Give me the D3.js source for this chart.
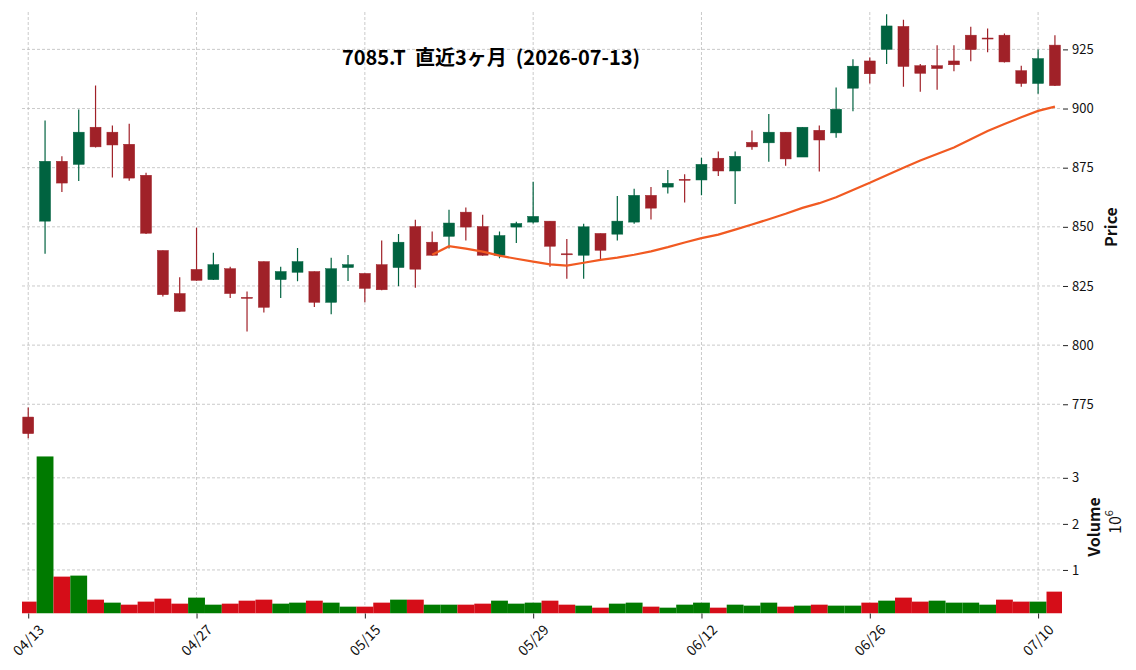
<!DOCTYPE html>
<html>
<head>
<meta charset="utf-8">
<script src="https://cdn.jsdelivr.net/npm/d3@7"></script>
<style>
body{margin:0;background:#fff;}
svg{font-family:"Noto Sans CJK JP","Noto Sans",sans-serif;}
</style>
</head>
<body>
<div id="chart"></div>
<script>
// 7085.T daily, last 3 months
const dates=["04/13","04/14","04/15","04/16","04/17","04/20","04/21","04/22","04/23","04/24",
"04/27","04/28","04/30","05/01","05/07","05/08","05/11","05/12","05/13","05/14",
"05/15","05/18","05/19","05/20","05/21","05/22","05/25","05/26","05/27","05/28",
"05/29","06/01","06/02","06/03","06/04","06/05","06/08","06/09","06/10","06/11",
"06/12","06/15","06/16","06/17","06/18","06/19","06/22","06/23","06/24","06/25",
"06/26","06/29","06/30","07/01","07/02","07/03","07/06","07/07","07/08","07/09",
"07/10","07/13"];
const opens=[769.6,852.4,877.7,876.4,892.1,890.0,884.9,871.8,840.0,821.8,
832.0,827.7,832.3,820.2,835.3,827.7,830.8,831.1,818.1,832.8,
830.3,834.0,832.8,850.1,843.5,846.0,856.2,850.1,838.0,849.9,
852.0,852.4,838.6,838.0,847.2,846.9,852.0,863.3,866.8,870.1,
869.8,879.0,873.6,885.7,885.5,890.0,879.5,890.8,889.7,908.6,
920.1,925.0,934.7,918.1,918.1,920.1,931.0,929.8,931.0,916.0,
910.6,926.8];
const highs=[773.6,894.9,879.8,899.6,909.7,892.8,893.6,872.9,840.0,828.7,
849.6,839.0,833.1,822.7,835.3,833.1,841.1,831.1,836.9,838.1,
830.3,844.2,847.0,853.0,848.0,857.2,858.2,855.1,848.0,852.1,
869.1,852.4,844.9,851.3,847.2,863.0,866.1,866.8,874.0,872.2,
879.2,881.8,881.8,890.7,897.7,890.0,892.1,892.8,908.9,920.8,
921.6,939.8,937.5,918.8,926.7,926.7,934.6,933.8,931.7,918.1,
925.0,931.0];
const lows=[760.6,838.6,864.7,869.4,883.5,870.8,869.5,847.0,820.6,814.0,
827.2,827.5,819.9,805.8,813.8,819.9,827.0,816.1,813.1,827.1,
818.1,823.2,824.9,824.2,837.8,840.8,844.2,837.8,836.7,843.2,
851.4,833.1,828.1,828.1,836.2,844.2,851.3,853.1,864.1,860.3,
863.3,871.5,859.7,882.6,877.5,875.8,879.5,873.4,887.7,898.9,
910.6,918.8,909.2,907.1,907.9,915.8,920.0,923.8,919.5,909.2,
906.3,909.5];
const closes=[762.6,877.7,868.5,890.0,883.8,884.6,870.6,847.3,821.3,814.3,
827.4,834.0,821.8,819.8,816.0,831.1,835.3,818.1,832.3,834.0,
824.0,823.4,843.5,832.1,838.0,851.6,849.9,838.0,846.3,851.4,
854.4,841.8,838.3,850.0,840.1,852.4,863.3,857.9,868.4,869.9,
876.4,873.6,879.8,883.8,890.0,878.7,892.1,886.7,899.7,917.9,
914.7,934.9,917.8,914.9,916.9,918.5,924.9,929.6,919.7,910.6,
921.1,909.7];
// volume, millions of shares
const volumes=[0.312,3.464,0.855,0.877,0.355,0.290,0.246,0.312,0.377,0.268,
0.399,0.246,0.268,0.333,0.355,0.268,0.290,0.333,0.290,0.203,
0.203,0.290,0.355,0.355,0.246,0.246,0.246,0.268,0.333,0.268,
0.290,0.333,0.246,0.225,0.181,0.268,0.290,0.203,0.181,0.246,
0.290,0.181,0.246,0.225,0.290,0.203,0.225,0.246,0.225,0.225,
0.290,0.333,0.399,0.312,0.333,0.290,0.290,0.246,0.355,0.312,
0.312,0.529];
// 25 day moving average
const ma25=[null,null,null,null,null,null,null,null,null,null,
null,null,null,null,null,null,null,null,null,null,
null,null,null,null,838.2,841.8,840.8,839.5,837.8,836.5,
835.3,834.1,833.6,834.8,836.0,837.0,838.2,839.6,841.4,843.4,
845.2,846.7,848.8,851.0,853.2,855.5,858.0,860.0,862.5,865.6,
868.6,871.8,875.0,878.0,880.8,883.5,887.0,890.5,893.5,896.3,
899.0,900.8];
const priceTicks=[775,800,825,850,875,900,925];
const volTicks=[1,2,3];
const title="7085.T  直近3ヶ月  (2026-07-13)";

const width=1136,height=670;
const left=22,right=1062,priceTop=12,priceBottom=440,volTop=440.5,volBottom=613.5;
const upColor="#006340",downColor="#a02128";
const volUp="#007a00",volDown="#d50d18";
const gridColor="#bdbdbd";

const svg=d3.select("#chart").append("svg")
  .attr("width",width).attr("height",height);

const x=d3.scaleLinear().domain([-0.37,dates.length-1+0.42]).range([left,right]);
const yP=d3.scaleLinear().domain([759.9,940.8]).range([priceBottom,priceTop]);
const yV=d3.scaleLinear()
  .domain([d3.min(volumes)*0.3,d3.max(volumes)*1.1])
  .range([volBottom,volTop]);
const step=x(1)-x(0);
const bodyW=step*0.65;

svg.append("defs").append("clipPath").attr("id","plotclip")
  .append("rect").attr("x",left).attr("y",priceTop)
  .attr("width",right-left).attr("height",volBottom-priceTop);

//grid
const xTicks=d3.range(0,dates.length,10);
const grid=svg.append("g")
  .attr("stroke",gridColor).attr("stroke-width",0.8).attr("stroke-dasharray","3,2");
grid.selectAll(".vg").data(xTicks).enter().append("line")
  .attr("x1",d=>x(d)).attr("x2",d=>x(d))
  .attr("y1",priceTop).attr("y2",volBottom);
grid.selectAll(".pg").data(priceTicks).enter().append("line")
  .attr("x1",left).attr("x2",right)
  .attr("y1",d=>yP(d)).attr("y2",d=>yP(d));
grid.selectAll(".vgl").data(volTicks).enter().append("line")
  .attr("x1",left).attr("x2",right)
  .attr("y1",d=>yV(d)).attr("y2",d=>yV(d));

const plot=svg.append("g").attr("clip-path","url(#plotclip)");

//volume bars, coloured by close vs previous close
plot.append("g").selectAll("rect").data(volumes).enter().append("rect")
  .attr("x",(d,i)=>x(i)-step/2)
  .attr("width",step)
  .attr("y",d=>yV(d))
  .attr("height",d=>volBottom-yV(d))
  .attr("fill",(d,i)=>(i>0&&closes[i]>=closes[i-1])?volUp:volDown);

//candles
const candles=plot.append("g").selectAll("g").data(dates).enter().append("g")
  .attr("fill",(d,i)=>closes[i]>=opens[i]?upColor:downColor)
  .attr("stroke",(d,i)=>closes[i]>=opens[i]?upColor:downColor);
candles.append("line")
  .attr("x1",(d,i)=>x(i)).attr("x2",(d,i)=>x(i))
  .attr("y1",(d,i)=>yP(highs[i])).attr("y2",(d,i)=>yP(lows[i]))
  .attr("stroke-width",1.2);
candles.append("rect")
  .attr("x",(d,i)=>x(i)-bodyW/2)
  .attr("width",bodyW)
  .attr("y",(d,i)=>yP(Math.max(opens[i],closes[i])))
  .attr("height",(d,i)=>Math.max(Math.abs(yP(opens[i])-yP(closes[i])),1))
  .attr("stroke-width",0.5);

//moving average
const maLine=d3.line()
  .defined(d=>d!=null)
  .x((d,i)=>x(i))
  .y(d=>yP(d));
plot.append("path").datum(ma25)
  .attr("d",maLine)
  .attr("fill","none")
  .attr("stroke","#f15a22")
  .attr("stroke-width",2.2);

//axes
const pAxis=d3.axisRight(yP).tickValues(priceTicks).tickSize(5).tickPadding(4);
const pg=svg.append("g").attr("transform","translate("+(right+1)+",0)").call(pAxis);
const vAxis=d3.axisRight(yV).tickValues(volTicks).tickFormat(d3.format("d")).tickSize(5).tickPadding(4);
const vg=svg.append("g").attr("transform","translate("+(right+1)+",0)").call(vAxis);
const xAxis=d3.axisBottom(x).tickValues(xTicks).tickFormat(i=>dates[i]).tickSize(5);
const xg=svg.append("g").attr("transform","translate(0,"+volBottom+")").call(xAxis);

[pg,vg,xg].forEach(g=>{
  g.select(".domain").remove();
  g.selectAll(".tick line").attr("stroke","#222");
  g.selectAll("text").attr("fill","#111").attr("font-size","13px")
    .attr("font-family","'Noto Sans CJK JP','Noto Sans',sans-serif");
});
xg.selectAll("text")
  .attr("y",0).attr("dy",null)
  .attr("font-size","14px")
  .attr("text-anchor","middle")
  .attr("dominant-baseline","central")
  .attr("transform","translate(-1,26) rotate(-45)");

//labels
svg.append("text")
  .attr("transform","translate(1110,227) rotate(-90)")
  .attr("text-anchor","middle").attr("dominant-baseline","central")
  .attr("font-size","16px").attr("font-weight","bold").attr("fill","#111")
  .text("Price");
svg.append("text")
  .attr("transform","translate(1093,527) rotate(-90)")
  .attr("text-anchor","middle").attr("dominant-baseline","central")
  .attr("font-size","16px").attr("font-weight","bold").attr("fill","#111")
  .text("Volume");
const pow=svg.append("text")
  .attr("transform","translate(1114,522) rotate(-90)")
  .attr("text-anchor","middle").attr("dominant-baseline","central")
  .attr("font-size","16px").attr("fill","#111");
pow.append("tspan").text("10");
pow.append("tspan").attr("dy","-6").attr("font-size","11px").text("6");

svg.append("text")
  .attr("x",491).attr("y",56)
  .attr("text-anchor","middle").attr("dominant-baseline","central")
  .attr("font-size","20px").attr("font-weight","bold").attr("fill","#000")
  .style("white-space","pre")
  .text(title);
</script>
</body>
</html>
